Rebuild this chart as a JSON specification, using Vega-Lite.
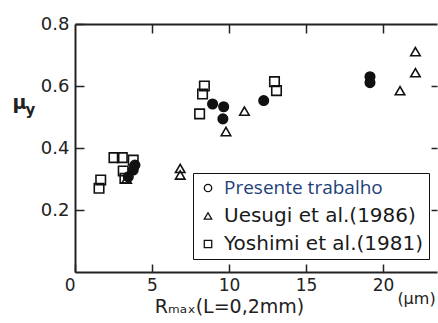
{
  "$schema": "https://vega.github.io/schema/vega-lite/v6.json",
  "width": 362,
  "height": 248,
  "autosize": {"type": "none"},
  "padding": {"left": 75, "top": 24, "right": 1, "bottom": 51},
  "background": "white",
  "config": {"view": {"stroke": null}},
  "data": {"values": [
    {"r": 19.15, "mu": 0.630, "serie": "Presente trabalho"},
    {"r": 19.15, "mu": 0.611, "serie": "Presente trabalho"},
    {"r": 12.25, "mu": 0.553, "serie": "Presente trabalho"},
    {"r": 8.93, "mu": 0.542, "serie": "Presente trabalho"},
    {"r": 9.65, "mu": 0.533, "serie": "Presente trabalho"},
    {"r": 9.60, "mu": 0.494, "serie": "Presente trabalho"},
    {"r": 3.89, "mu": 0.345, "serie": "Presente trabalho"},
    {"r": 3.78, "mu": 0.329, "serie": "Presente trabalho"},
    {"r": 3.46, "mu": 0.307, "serie": "Presente trabalho"},
    {"r": 22.1, "mu": 0.711, "serie": "Uesugi et al.(1986)"},
    {"r": 22.1, "mu": 0.643, "serie": "Uesugi et al.(1986)"},
    {"r": 21.1, "mu": 0.585, "serie": "Uesugi et al.(1986)"},
    {"r": 11.0, "mu": 0.519, "serie": "Uesugi et al.(1986)"},
    {"r": 9.8, "mu": 0.453, "serie": "Uesugi et al.(1986)"},
    {"r": 6.83, "mu": 0.334, "serie": "Uesugi et al.(1986)"},
    {"r": 6.83, "mu": 0.313, "serie": "Uesugi et al.(1986)"},
    {"r": 3.35, "mu": 0.300, "serie": "Uesugi et al.(1986)"},
    {"r": 12.95, "mu": 0.614, "serie": "Yoshimi et al.(1981)"},
    {"r": 13.08, "mu": 0.585, "serie": "Yoshimi et al.(1981)"},
    {"r": 8.40, "mu": 0.600, "serie": "Yoshimi et al.(1981)"},
    {"r": 8.28, "mu": 0.574, "serie": "Yoshimi et al.(1981)"},
    {"r": 8.09, "mu": 0.510, "serie": "Yoshimi et al.(1981)"},
    {"r": 2.53, "mu": 0.369, "serie": "Yoshimi et al.(1981)"},
    {"r": 3.07, "mu": 0.369, "serie": "Yoshimi et al.(1981)"},
    {"r": 3.78, "mu": 0.361, "serie": "Yoshimi et al.(1981)"},
    {"r": 3.13, "mu": 0.326, "serie": "Yoshimi et al.(1981)"},
    {"r": 3.24, "mu": 0.302, "serie": "Yoshimi et al.(1981)"},
    {"r": 1.67, "mu": 0.297, "serie": "Yoshimi et al.(1981)"},
    {"r": 1.56, "mu": 0.270, "serie": "Yoshimi et al.(1981)"}
  ]},
  "layer": [
    {
      "mark": {"type": "point", "filled": false, "stroke": "#111", "strokeWidth": 1.6, "opacity": 1, "size": 90},
      "encoding": {
        "x": {"field": "r", "type": "quantitative",
          "scale": {"domain": [0, 23.5], "nice": false, "zero": false},
          "axis": {"orient": "bottom", "values": [0, 5, 10, 15, 20], "grid": false,
            "domainColor": "#222", "domainWidth": 2, "tickColor": "#222", "tickWidth": 1.5, "tickSize": -8,
            "labelFont": "DejaVu Sans", "labelFontSize": 17, "labelColor": "#222", "labelPadding": 13,
            "labelAlign": {"expr": "datum.value == 0 ? 'right' : 'center'"},
            "title": "Rₘₐₓ(L=0,2mm)", "titleFont": "DejaVu Sans", "titleFontSize": 19, "titleFontWeight": "normal", "titleColor": "#222",
            "titleX": 154, "titleY": 40, "titleAlign": "center", "titleBaseline": "alphabetic"}},
        "y": {"field": "mu", "type": "quantitative",
          "scale": {"domain": [0, 0.8], "nice": false, "zero": false},
          "axis": {"orient": "left", "values": [0.2, 0.4, 0.6, 0.8], "format": ".1f", "grid": false,
            "domainColor": "#222", "domainWidth": 2, "tickColor": "#222", "tickWidth": 1.5, "tickSize": -9,
            "labelFont": "DejaVu Sans", "labelFontSize": 18, "labelColor": "#222", "labelPadding": 15,
            "title": "μ", "titleFont": "DejaVu Sans", "titleFontSize": 19, "titleFontWeight": "bold", "titleColor": "#222",
            "titleAngle": 0, "titleX": -56, "titleY": 84, "titleAlign": "center", "titleBaseline": "alphabetic"}},
        "shape": {"field": "serie", "type": "nominal",
          "scale": {"domain": ["Presente trabalho", "Uesugi et al.(1986)", "Yoshimi et al.(1981)"], "range": ["circle", "triangle-up", "square"]},
          "legend": {"title": null, "orient": "none", "legendX": 118, "legendY": 149,
            "fillColor": "white", "strokeColor": "#111", "padding": 5, "rowPadding": 8,
            "symbolSize": 55, "symbolStrokeColor": "#111", "symbolStrokeWidth": 1.3, "labelOffset": 6,
            "symbolFillColor": {"expr": "datum.label == 'Presente trabalho' ? '#111' : 'rgba(0,0,0,0)'"},
            "labelFont": {"expr": "datum.label == 'Presente trabalho' ? 'Open Sans' : 'DejaVu Sans'"},
            "labelFontSize": {"expr": "datum.label == 'Presente trabalho' ? 19 : 20"},
            "labelColor": {"expr": "datum.label == 'Presente trabalho' ? '#1f3f7a' : '#1a1a1a'"},
            "labelLimit": 300,
            "encode": {"legend": {"strokeWidth": {"value": 1.5}}}}}
      }
    },
    {
      "transform": [{"filter": {"field": "serie", "equal": "Presente trabalho"}}],
      "mark": {"type": "circle", "color": "#111", "opacity": 1, "size": 90},
      "encoding": {
        "x": {"field": "r", "type": "quantitative", "axis": null},
        "y": {"field": "mu", "type": "quantitative", "axis": null}
      }
    },
    {
      "mark": {"type": "point", "opacity": 0},
      "encoding": {
        "x": {"field": "r", "type": "quantitative",
          "axis": {"orient": "top", "values": [5, 10, 15, 20], "grid": false, "labels": false,
            "domainColor": "#222", "domainWidth": 2, "tickColor": "#222", "tickWidth": 1.5, "tickSize": -9,
            "title": "(μm)", "titleFont": "DejaVu Sans", "titleFontSize": 16, "titleFontWeight": "normal", "titleColor": "#222",
            "titleX": 341, "titleY": 279, "titleAlign": "center", "titleBaseline": "alphabetic"}},
        "y": {"field": "mu", "type": "quantitative",
          "axis": {"orient": "right", "values": [0.2, 0.4, 0.6], "grid": false, "labels": false, "domain": false,
            "tickColor": "#222", "tickWidth": 1.5, "tickSize": -6,
            "title": "y", "titleFont": "DejaVu Sans", "titleFontSize": 15, "titleFontWeight": "bold", "titleColor": "#222",
            "titleAngle": 0, "titleX": -407, "titleY": 90, "titleAlign": "center", "titleBaseline": "alphabetic"}}
      }
    }
  ],
  "resolve": {"axis": {"x": "independent", "y": "independent"}}
}
